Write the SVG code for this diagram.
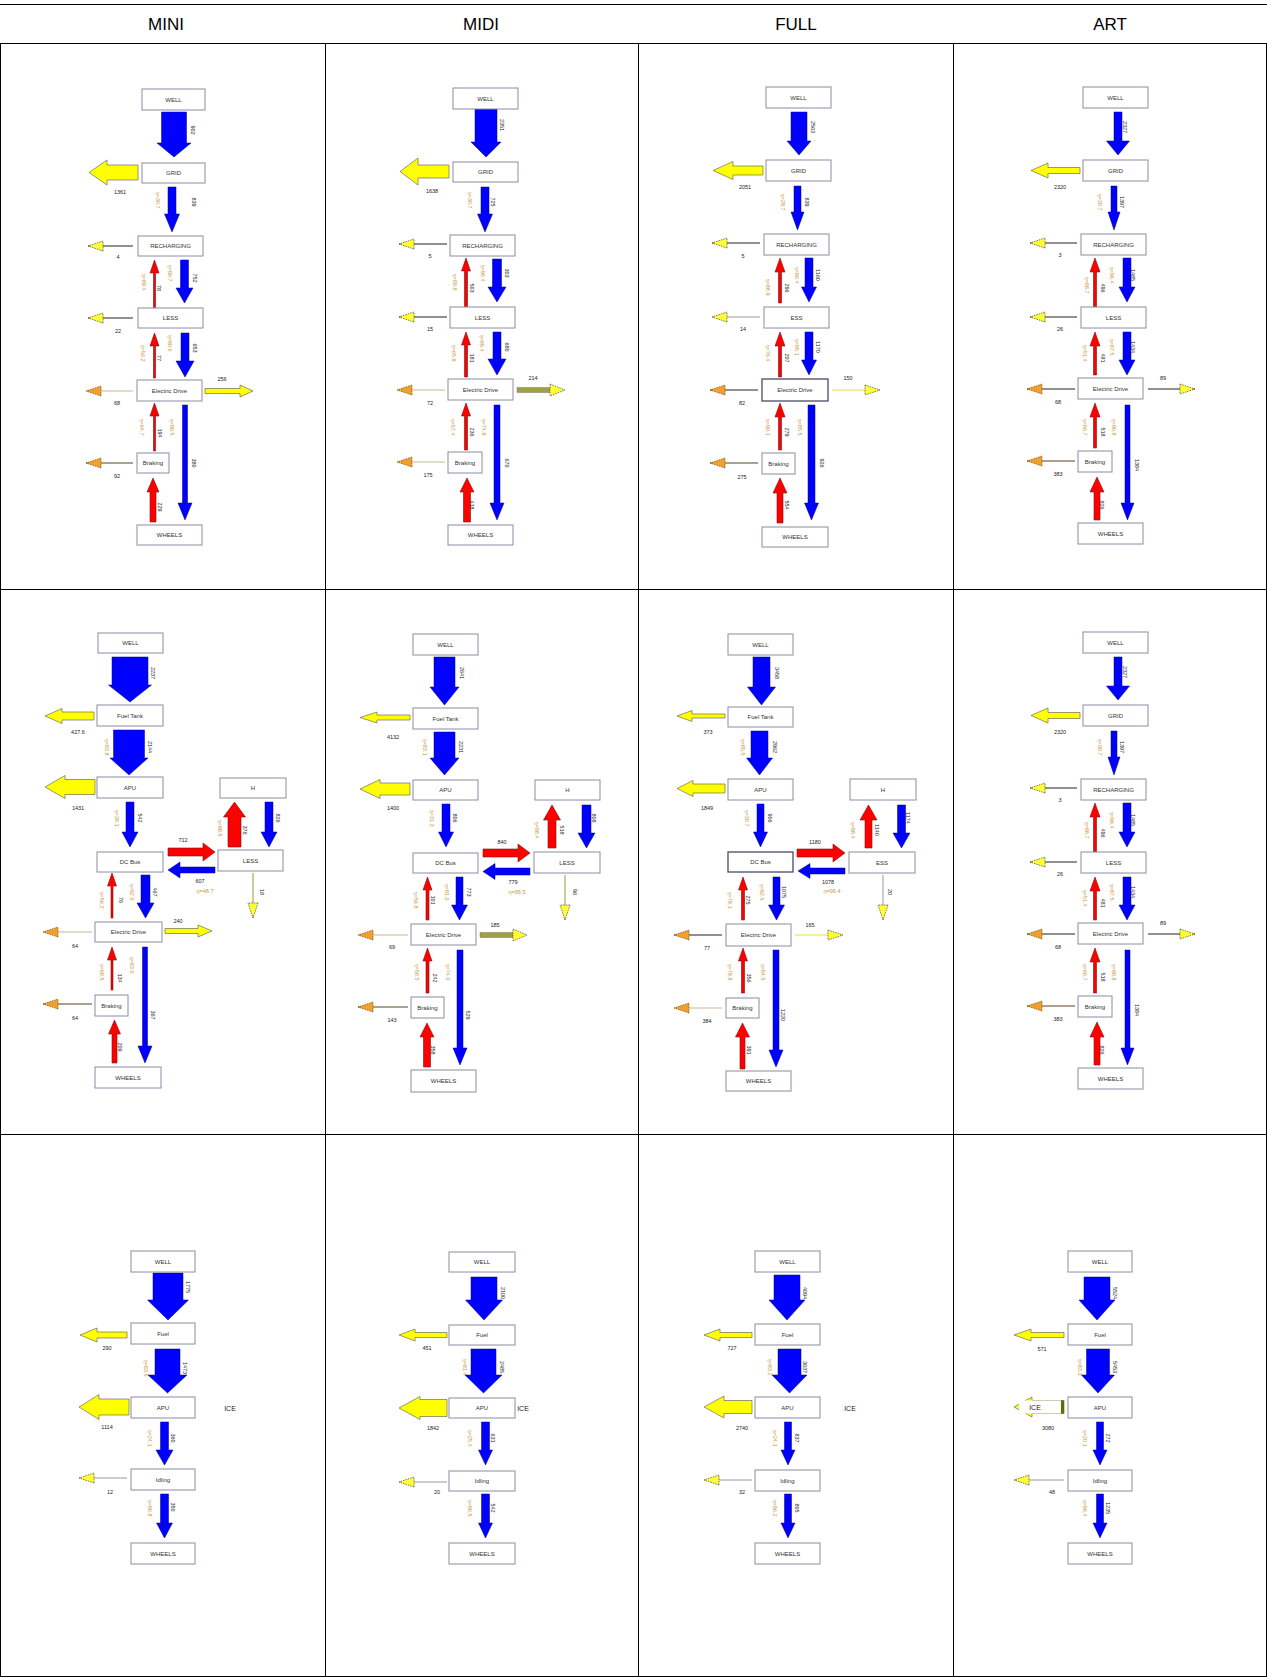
<svg xmlns="http://www.w3.org/2000/svg" width="1267" height="1677" viewBox="0 0 1267 1677">
<style>
.b{fill:#fff;stroke:#8c8ca6;stroke-width:1}
.bd{fill:#fff;stroke:#4a4a66;stroke-width:1.3}
.t{font-family:"Liberation Sans",Arial,sans-serif;font-size:6px;fill:#333;text-anchor:middle;dominant-baseline:central}
.n{font-family:"Liberation Sans",Arial,sans-serif;font-size:5.5px;fill:#222;text-anchor:middle;dominant-baseline:central}
.e{font-family:"Liberation Sans",Arial,sans-serif;font-size:5.5px;fill:#c8963c;text-anchor:middle;dominant-baseline:central}
.ice{font-family:"Liberation Sans",Arial,sans-serif;font-size:7px;fill:#222;text-anchor:middle;dominant-baseline:central}
.h{font-family:"Liberation Sans",Arial,sans-serif;font-size:17px;fill:#000;text-anchor:middle;dominant-baseline:central}
.bl{fill:#0000ff;stroke:#000080;stroke-width:.5}
.rd{fill:#ff0000;stroke:#7a1010;stroke-width:.6}
.yl{fill:#ffff00;stroke:#555;stroke-width:.6}
.lk{stroke:#222;stroke-width:1;fill:none}
.lg{stroke:#9a9a9a}
.lt{stroke:#c8b890}
.lb{stroke:#5a4020}
.ly{stroke:#e6e040}
.lo{stroke:#9a9a30}
.grid{stroke:#000;stroke-width:1;fill:none}
</style>
<defs>
<marker id="mY" markerUnits="userSpaceOnUse" markerWidth="16" markerHeight="10" viewBox="0 0 16 10" refX="15" refY="5" orient="auto" style="overflow:visible">
<path d="M0,0 L15,5 L0,10 Z" fill="#ffff33" stroke="#444" stroke-width=".7" stroke-dasharray="1.5 1"/>
</marker>
<marker id="mO" markerUnits="userSpaceOnUse" markerWidth="16" markerHeight="10" viewBox="0 0 16 10" refX="15" refY="5" orient="auto" style="overflow:visible">
<path d="M0,0 L15,5 L0,10 Z" fill="#f0a030" stroke="#7a5000" stroke-width=".7" stroke-dasharray="1.5 1"/>
</marker>
</defs>
<rect x="0" y="0" width="1267" height="1677" fill="#fff"/>

<g id="table">
<line class="grid" x1="0" y1="4.5" x2="1267" y2="4.5"/>
<line class="grid" x1="0" y1="43.5" x2="1267" y2="43.5"/>
<line class="grid" x1="0" y1="589.5" x2="1267" y2="589.5"/>
<line class="grid" x1="0" y1="1134.5" x2="1267" y2="1134.5"/>
<line class="grid" x1="0" y1="1676.5" x2="1267" y2="1676.5"/>
<line class="grid" x1="0.5" y1="43.5" x2="0.5" y2="1677"/>
<line class="grid" x1="325.5" y1="43.5" x2="325.5" y2="1677"/>
<line class="grid" x1="638.5" y1="43.5" x2="638.5" y2="1677"/>
<line class="grid" x1="953.5" y1="43.5" x2="953.5" y2="1677"/>
<line class="grid" x1="1266.5" y1="43.5" x2="1266.5" y2="1677"/>
<text class="h" x="166" y="24">MINI</text>
<text class="h" x="481" y="24">MIDI</text>
<text class="h" x="796" y="24">FULL</text>
<text class="h" x="1110" y="24">ART</text>
</g>

<!-- ROW 1 MINI -->
<g id="mini1">
<g id="mini1-conn">
<polygon class="bl" points="161.5,112 186.5,112 186.5,143 191,143 174,157 157,143 161.5,143"/>
<polygon class="yl" points="138,165 138,180 107,180 107,185 89,172.5 107,160 107,165"/>
<polygon class="bl" points="168,187 176,187 176,214 179.5,214 172,232 164.5,214 168,214"/>
<line class="lk" x1="133" y1="246" x2="88" y2="246" marker-end="url(#mY)"/>
<polygon class="rd" points="153.5,310 155.5,310 155.5,273 159,273 154.5,260 150,273 153.5,273"/>
<polygon class="bl" points="180.5,260 188.5,260 188.5,288 193,288 184.5,303 176,288 180.5,288"/>
<line class="lk" x1="133" y1="318" x2="88" y2="318" marker-end="url(#mY)"/>
<polygon class="rd" points="153.5,378 155.5,378 155.5,346 159,346 154.5,333 150,346 153.5,346"/>
<polygon class="bl" points="181,333 189,333 189,361 194,361 185,377 176,361 181,361"/>
<line class="lk lt" x1="133" y1="391" x2="86" y2="391" marker-end="url(#mO)"/>
<polygon class="yl" points="205,388.5 240,388.5 240,385 253,391 240,397 240,393.5 205,393.5"/>
<polygon class="rd" points="153.5,451 155.5,451 155.5,416 159,416 154.5,403 150,416 153.5,416"/>
<polygon class="bl" points="182.5,405 187.5,405 187.5,503 192,503 185,520 178,503 182.5,503"/>
<line class="lk lb" x1="133" y1="463" x2="86" y2="463" marker-end="url(#mO)"/>
<polygon class="rd" points="150,522 156,522 156,492 159,492 153,478 147,492 150,492"/>
</g>
<g id="mini1-well"><rect class="b" x="142" y="89" width="63" height="21"/><text class="t" x="173.5" y="99.5">WELL</text></g>
<g id="mini1-grid"><rect class="b" x="142" y="163" width="63" height="20"/><text class="t" x="173.5" y="173">GRID</text></g>
<g id="mini1-rech"><rect class="b" x="138" y="236" width="65" height="20"/><text class="t" x="170.5" y="246">RECHARGING</text></g>
<g id="mini1-less"><rect class="b" x="138" y="308" width="65" height="20"/><text class="t" x="170.5" y="318">LESS</text></g>
<g id="mini1-ed"><rect class="b" x="137" y="380" width="65" height="21"/><text class="t" x="169.5" y="390.5">Electric Drive</text></g>
<g id="mini1-brk"><rect class="b" x="137" y="453" width="32" height="20"/><text class="t" x="153" y="463">Braking</text></g>
<g id="mini1-wh"><rect class="b" x="137" y="525" width="65" height="20"/><text class="t" x="169.5" y="535">WHEELS</text></g>
<g id="mini1-labels">
<text class="n" x="193" y="130" transform="rotate(90 193 130)">902</text>
<text class="n" x="120" y="192">1361</text>
<text class="n" x="194" y="202" transform="rotate(90 194 202)">839</text>
<text class="e" x="158" y="200" transform="rotate(90 158 200)">η=30.7</text>
<text class="n" x="118" y="257">4</text>
<text class="n" x="159" y="288" transform="rotate(90 159 288)">78</text>
<text class="e" x="144" y="282" transform="rotate(90 144 282)">η=89.4</text>
<text class="n" x="195" y="278" transform="rotate(90 195 278)">752</text>
<text class="e" x="170" y="273" transform="rotate(90 170 273)">η=90.7</text>
<text class="n" x="118" y="331">22</text>
<text class="n" x="159" y="358" transform="rotate(90 159 358)">77</text>
<text class="e" x="143" y="353" transform="rotate(90 143 353)">η=56.2</text>
<text class="n" x="195" y="348" transform="rotate(90 195 348)">653</text>
<text class="e" x="170" y="343" transform="rotate(90 170 343)">η=90.6</text>
<text class="n" x="117" y="403">68</text>
<text class="n" x="222" y="379">256</text>
<text class="n" x="160" y="433" transform="rotate(90 160 433)">194</text>
<text class="e" x="142" y="427" transform="rotate(90 142 427)">η=64.7</text>
<text class="n" x="194" y="463" transform="rotate(90 194 463)">380</text>
<text class="e" x="172" y="427" transform="rotate(90 172 427)">η=90.5</text>
<text class="n" x="117" y="476">92</text>
<text class="n" x="160" y="507" transform="rotate(90 160 507)">229</text>
</g>
</g>

<!-- ROW 1 MIDI -->
<g id="midi1">
<g id="midi1-conn">
<polygon class="bl" points="475,103 497,103 497,142 501,142 486,157 471,142 475,142"/>
<polygon class="yl" points="449,165 449,178 418,178 418,185 400,171.5 418,158 418,165"/>
<polygon class="bl" points="481,187 489,187 489,214 492.5,214 485,232 477.5,214 481,214"/>
<line class="lk" x1="447" y1="244" x2="399" y2="244" marker-end="url(#mY)"/>
<polygon class="rd" points="464.5,312 467.5,312 467.5,271 470.5,271 466,258 461.5,271 464.5,271"/>
<polygon class="bl" points="492.5,259 501.5,259 501.5,287 506,287 497,302 488,287 492.5,287"/>
<line class="lk" x1="447" y1="317" x2="399" y2="317" marker-end="url(#mY)"/>
<polygon class="rd" points="464.5,377 467.5,377 467.5,345 470.5,345 466,332 461.5,345 464.5,345"/>
<polygon class="bl" points="493,332 501,332 501,359 506,359 497,375 488,359 493,359"/>
<line class="lk lt" x1="445" y1="390" x2="397" y2="390" marker-end="url(#mO)"/>
<rect x="517" y="387.5" width="34" height="5" fill="#a0a040" stroke="#666" stroke-width=".4"/>
<polygon points="550,384 565,390 550,396" fill="#ffff33" stroke="#444" stroke-width=".7" stroke-dasharray="1.5 1"/>
<polygon class="rd" points="464.5,450 467.5,450 467.5,416 470.5,416 466,403 461.5,416 464.5,416"/>
<polygon class="bl" points="494,405 500,405 500,503 504,503 497,520 490,503 494,503"/>
<line class="lk lt" x1="445" y1="462" x2="397" y2="462" marker-end="url(#mO)"/>
<polygon class="rd" points="463.5,522 470.5,522 470.5,492 474,492 467,478 460,492 463.5,492"/>
</g>
<g id="midi1-well"><rect class="b" x="453" y="88" width="65" height="21"/><text class="t" x="485.5" y="98.5">WELL</text></g>
<g id="midi1-grid"><rect class="b" x="453" y="162" width="65" height="20"/><text class="t" x="485.5" y="172">GRID</text></g>
<g id="midi1-rech"><rect class="b" x="450" y="235" width="65" height="21"/><text class="t" x="482.5" y="245.5">RECHARGING</text></g>
<g id="midi1-less"><rect class="b" x="450" y="307" width="65" height="21"/><text class="t" x="482.5" y="317.5">LESS</text></g>
<g id="midi1-ed"><rect class="b" x="448" y="379" width="65" height="21"/><text class="t" x="480.5" y="389.5">Electric Drive</text></g>
<g id="midi1-brk"><rect class="b" x="448" y="452" width="34" height="21"/><text class="t" x="465" y="462.5">Braking</text></g>
<g id="midi1-wh"><rect class="b" x="448" y="525" width="65" height="20"/><text class="t" x="480.5" y="535">WHEELS</text></g>
<g id="midi1-labels">
<text class="n" x="502" y="125" transform="rotate(90 502 125)">2351</text>
<text class="n" x="432" y="191">1638</text>
<text class="n" x="493" y="202" transform="rotate(90 493 202)">725</text>
<text class="e" x="470" y="200" transform="rotate(90 470 200)">η=30.7</text>
<text class="n" x="430" y="256">5</text>
<text class="n" x="472" y="288" transform="rotate(90 472 288)">503</text>
<text class="e" x="455" y="282" transform="rotate(90 455 282)">η=89.8</text>
<text class="n" x="507" y="273" transform="rotate(90 507 273)">303</text>
<text class="e" x="483" y="273" transform="rotate(90 483 273)">η=96.4</text>
<text class="n" x="430" y="329">15</text>
<text class="n" x="472" y="358" transform="rotate(90 472 358)">181</text>
<text class="e" x="454" y="353" transform="rotate(90 454 353)">η=65.9</text>
<text class="n" x="507" y="347" transform="rotate(90 507 347)">680</text>
<text class="e" x="482" y="343" transform="rotate(90 482 343)">η=89.4</text>
<text class="n" x="430" y="403">72</text>
<text class="n" x="533" y="378">214</text>
<text class="n" x="472" y="432" transform="rotate(90 472 432)">236</text>
<text class="e" x="453" y="427" transform="rotate(90 453 427)">η=57.4</text>
<text class="n" x="507" y="463" transform="rotate(90 507 463)">670</text>
<text class="e" x="484" y="427" transform="rotate(90 484 427)">η=74.8</text>
<text class="n" x="428" y="475">175</text>
<text class="n" x="472" y="505" transform="rotate(90 472 505)">418</text>
</g>
</g>

<!-- ROW 1 FULL -->
<g id="full1">
<g id="full1-conn">
<polygon class="bl" points="791,112 807,112 807,141 811,141 799,155 787,141 791,141"/>
<polygon class="yl" points="763,166 763,175 733,175 733,179.5 713,170.5 733,161.5 733,166"/>
<polygon class="bl" points="794,186 801,186 801,212 804,212 797.5,230 791,212 794,212"/>
<line class="lk" x1="760" y1="243" x2="712" y2="243" marker-end="url(#mY)"/>
<polygon class="rd" points="778.5,303 781.5,303 781.5,272 785,272 780,258 775,272 778.5,272"/>
<polygon class="bl" points="805,258 813,258 813,287 816.5,287 809,302 801.5,287 805,287"/>
<line class="lk lg" x1="760" y1="317" x2="712" y2="317" marker-end="url(#mY)"/>
<polygon class="rd" points="778.5,377 781.5,377 781.5,346 785,346 780,332 775,346 778.5,346"/>
<polygon class="bl" points="805,332 813,332 813,360 816.5,360 809,375 801.5,360 805,360"/>
<line class="lk" x1="758" y1="390" x2="710" y2="390" marker-end="url(#mO)"/>
<line class="lk ly" x1="832" y1="390" x2="880" y2="390" marker-end="url(#mY)"/>
<polygon class="rd" points="778.5,450 781.5,450 781.5,417 785,417 780,403 775,417 778.5,417"/>
<polygon class="bl" points="808,405 815,405 815,503 818.5,503 811.5,520 804.5,503 808,503"/>
<line class="lk lb" x1="758" y1="463" x2="710" y2="463" marker-end="url(#mO)"/>
<polygon class="rd" points="777,523 783,523 783,493 787,493 780,478 773,493 777,493"/>
</g>
<g id="full1-well"><rect class="b" x="766" y="87" width="65" height="21"/><text class="t" x="798.5" y="97.5">WELL</text></g>
<g id="full1-grid"><rect class="b" x="766" y="160" width="65" height="21"/><text class="t" x="798.5" y="170.5">GRID</text></g>
<g id="full1-rech"><rect class="b" x="764" y="234" width="65" height="21"/><text class="t" x="796.5" y="244.5">RECHARGING</text></g>
<g id="full1-ess"><rect class="b" x="764" y="307" width="65" height="21"/><text class="t" x="796.5" y="317.5">ESS</text></g>
<g id="full1-ed"><rect class="bd" x="762" y="379" width="66" height="22"/><text class="t" x="795" y="390">Electric Drive</text></g>
<g id="full1-brk"><rect class="b" x="762" y="453" width="33" height="21"/><text class="t" x="778.5" y="463.5">Braking</text></g>
<g id="full1-wh"><rect class="b" x="762" y="527" width="66" height="20"/><text class="t" x="795" y="537">WHEELS</text></g>
<g id="full1-labels">
<text class="n" x="813" y="127" transform="rotate(90 813 127)">2563</text>
<text class="n" x="745" y="187">2051</text>
<text class="n" x="807" y="202" transform="rotate(90 807 202)">839</text>
<text class="e" x="783" y="202" transform="rotate(90 783 202)">η=29.7</text>
<text class="n" x="743" y="256">5</text>
<text class="n" x="787" y="288" transform="rotate(90 787 288)">296</text>
<text class="e" x="768" y="287" transform="rotate(90 768 287)">η=88.9</text>
<text class="n" x="818" y="275" transform="rotate(90 818 275)">1160</text>
<text class="e" x="797" y="275" transform="rotate(90 797 275)">η=96.4</text>
<text class="n" x="743" y="329">14</text>
<text class="n" x="787" y="358" transform="rotate(90 787 358)">207</text>
<text class="e" x="768" y="353" transform="rotate(90 768 353)">η=76.4</text>
<text class="n" x="818" y="347" transform="rotate(90 818 347)">1170</text>
<text class="e" x="797" y="347" transform="rotate(90 797 347)">η=95.1</text>
<text class="n" x="742" y="403">82</text>
<text class="n" x="848" y="378">150</text>
<text class="n" x="787" y="432" transform="rotate(90 787 432)">279</text>
<text class="e" x="768" y="427" transform="rotate(90 768 427)">η=90.1</text>
<text class="n" x="822" y="463" transform="rotate(90 822 463)">926</text>
<text class="e" x="800" y="427" transform="rotate(90 800 427)">η=85.5</text>
<text class="n" x="742" y="477">275</text>
<text class="n" x="787" y="505" transform="rotate(90 787 505)">554</text>
</g>
</g>

<!-- ROW 1 ART -->
<g id="art1">
<g id="art1-conn">
<polygon class="bl" points="1114,112 1122,112 1122,141 1129.5,141 1118,155 1106.5,141 1114,141"/>
<polygon class="yl" points="1080,167.5 1080,173.5 1048,173.5 1048,178 1031,170.5 1048,163 1048,167.5"/>
<polygon class="bl" points="1111,186 1117,186 1117,212 1120,212 1114,230 1108,212 1111,212"/>
<line class="lk" x1="1077" y1="243" x2="1030" y2="243" marker-end="url(#mY)"/>
<polygon class="rd" points="1093.5,310 1096.5,310 1096.5,272 1100,272 1095,258 1090,272 1093.5,272"/>
<polygon class="bl" points="1123,258 1131,258 1131,287 1135,287 1127,302 1119,287 1123,287"/>
<line class="lk" x1="1077" y1="317" x2="1030" y2="317" marker-end="url(#mY)"/>
<polygon class="rd" points="1093.5,375 1096.5,375 1096.5,346 1100,346 1095,332 1090,346 1093.5,346"/>
<polygon class="bl" points="1123,332 1131,332 1131,360 1135,360 1127,375 1119,360 1123,360"/>
<line class="lk" x1="1075" y1="389" x2="1027" y2="389" marker-end="url(#mO)"/>
<line class="lk" x1="1148" y1="389" x2="1195" y2="389" marker-end="url(#mY)"/>
<polygon class="rd" points="1093.5,448 1096.5,448 1096.5,417 1100,417 1095,403 1090,417 1093.5,417"/>
<polygon class="bl" points="1125,405 1130,405 1130,503 1134,503 1127.5,520 1121,503 1125,503"/>
<line class="lk lb" x1="1075" y1="461" x2="1027" y2="461" marker-end="url(#mO)"/>
<polygon class="rd" points="1094,520 1100,520 1100,492 1104,492 1097,477 1090,492 1094,492"/>
</g>
<g id="art1-well"><rect class="b" x="1083" y="87" width="65" height="21"/><text class="t" x="1115.5" y="97.5">WELL</text></g>
<g id="art1-grid"><rect class="b" x="1083" y="160" width="65" height="21"/><text class="t" x="1115.5" y="170.5">GRID</text></g>
<g id="art1-rech"><rect class="b" x="1081" y="234" width="65" height="21"/><text class="t" x="1113.5" y="244.5">RECHARGING</text></g>
<g id="art1-less"><rect class="b" x="1081" y="307" width="65" height="21"/><text class="t" x="1113.5" y="317.5">LESS</text></g>
<g id="art1-ed"><rect class="b" x="1078" y="378" width="65" height="21"/><text class="t" x="1110.5" y="388.5">Electric Drive</text></g>
<g id="art1-brk"><rect class="b" x="1078" y="451" width="34" height="21"/><text class="t" x="1095" y="461.5">Braking</text></g>
<g id="art1-wh"><rect class="b" x="1078" y="523" width="65" height="21"/><text class="t" x="1110.5" y="533.5">WHEELS</text></g>
<g id="art1-labels">
<text class="n" x="1125" y="127" transform="rotate(90 1125 127)">2327</text>
<text class="n" x="1060" y="187">2320</text>
<text class="n" x="1122" y="202" transform="rotate(90 1122 202)">1397</text>
<text class="e" x="1100" y="202" transform="rotate(90 1100 202)">η=30.7</text>
<text class="n" x="1060" y="255">3</text>
<text class="n" x="1103" y="288" transform="rotate(90 1103 288)">496</text>
<text class="e" x="1087" y="285" transform="rotate(90 1087 285)">η=88.7</text>
<text class="n" x="1133" y="275" transform="rotate(90 1133 275)">1485</text>
<text class="e" x="1112" y="275" transform="rotate(90 1112 275)">η=96.4</text>
<text class="n" x="1060" y="329">26</text>
<text class="n" x="1103" y="358" transform="rotate(90 1103 358)">481</text>
<text class="e" x="1085" y="353" transform="rotate(90 1085 353)">η=51.4</text>
<text class="n" x="1133" y="347" transform="rotate(90 1133 347)">1434</text>
<text class="e" x="1112" y="347" transform="rotate(90 1112 347)">η=87.5</text>
<text class="n" x="1058" y="402">68</text>
<text class="n" x="1163" y="378">89</text>
<text class="n" x="1103" y="432" transform="rotate(90 1103 432)">518</text>
<text class="e" x="1085" y="427" transform="rotate(90 1085 427)">η=66.7</text>
<text class="n" x="1137" y="465" transform="rotate(90 1137 465)">1384</text>
<text class="e" x="1114" y="427" transform="rotate(90 1114 427)">η=90.8</text>
<text class="n" x="1058" y="474">383</text>
<text class="n" x="1102" y="505" transform="rotate(90 1102 505)">826</text>
</g>
</g>

<!-- ROW 2 MINI -->
<g id="mini2">
<g id="mini2-conn">
<polygon class="bl" points="112,657 148,657 148,685 151.5,685 130,702 108.5,685 112,685"/>
<polygon class="yl" points="94,712 94,720 62,720 62,723.5 45,716 62,708.5 62,712"/>
<polygon class="bl" points="113.5,730 144.5,730 144.5,758 148,758 129,775 110,758 113.5,758"/>
<polygon class="yl" points="95,779.5 95,794.5 65,794.5 65,798.5 45,787 65,775.5 65,779.5"/>
<polygon class="bl" points="126,802 134,802 134,832 138,832 130,847 122,832 126,832"/>
<polygon class="rd" points="228,847 241,847 241,817 245.5,817 234.5,802 223.5,817 228,817"/>
<polygon class="bl" points="265,802 273,802 273,832 277,832 269,847 261,832 265,832"/>
<polygon class="rd" points="168,848 203,848 203,843 215,852 203,861 203,856 168,856"/>
<polygon class="bl" points="215,867 215,873 180,873 180,878 168,870 180,862 180,867"/>
<line class="lk lo" x1="253" y1="873" x2="253" y2="918" marker-end="url(#mY)"/>
<polygon class="rd" points="111,918 113,918 113,886 116.5,886 112,873 107.5,886 111,886"/>
<polygon class="bl" points="141,875 150,875 150,903 154,903 145.5,918 137,903 141,903"/>
<line class="lk lt" x1="92" y1="932" x2="43" y2="932" marker-end="url(#mO)"/>
<polygon class="yl" points="165,928.5 198,928.5 198,925 212,931 198,937 198,933.5 165,933.5"/>
<polygon class="rd" points="111,990 113,990 113,960 116.5,960 112,947 107.5,960 111,960"/>
<polygon class="bl" points="142.5,947 147.5,947 147.5,1046 152,1046 145,1063 138,1046 142.5,1046"/>
<line class="lk lb" x1="92" y1="1004" x2="43" y2="1004" marker-end="url(#mO)"/>
<polygon class="rd" points="112,1063 117,1063 117,1034 120.5,1034 114.5,1020 108.5,1034 112,1034"/>
</g>
<g id="mini2-well"><rect class="b" x="98" y="633" width="65" height="20"/><text class="t" x="130.5" y="643">WELL</text></g>
<g id="mini2-ft"><rect class="b" x="97" y="705" width="66" height="21"/><text class="t" x="130" y="715.5">Fuel Tank</text></g>
<g id="mini2-apu"><rect class="b" x="97" y="777" width="66" height="21"/><text class="t" x="130" y="787.5">APU</text></g>
<g id="mini2-dc"><rect class="b" x="97" y="852" width="66" height="20"/><text class="t" x="130" y="862">DC Bus</text></g>
<g id="mini2-h"><rect class="b" x="220" y="778" width="66" height="20"/><text class="t" x="253" y="788">H</text></g>
<g id="mini2-less"><rect class="b" x="218" y="850" width="65" height="21"/><text class="t" x="250.5" y="860.5">LESS</text></g>
<g id="mini2-ed"><rect class="b" x="95" y="922" width="67" height="20"/><text class="t" x="128.5" y="932">Electric Drive</text></g>
<g id="mini2-brk"><rect class="b" x="95" y="995" width="33" height="21"/><text class="t" x="111.5" y="1005.5">Braking</text></g>
<g id="mini2-wh"><rect class="b" x="95" y="1067" width="66" height="21"/><text class="t" x="128" y="1077.5">WHEELS</text></g>
<g id="mini2-labels">
<text class="n" x="153" y="673" transform="rotate(90 153 673)">2237</text>
<text class="n" x="78" y="732">427.6</text>
<text class="n" x="150" y="747" transform="rotate(90 150 747)">2144</text>
<text class="e" x="107" y="747" transform="rotate(90 107 747)">η=83.8</text>
<text class="n" x="78" y="808">1431</text>
<text class="n" x="140" y="818" transform="rotate(90 140 818)">542</text>
<text class="e" x="117" y="818" transform="rotate(90 117 818)">η=38.1</text>
<text class="n" x="245" y="830" transform="rotate(90 245 830)">376</text>
<text class="e" x="220" y="828" transform="rotate(90 220 828)">η=98.5</text>
<text class="n" x="278" y="818" transform="rotate(90 278 818)">826</text>
<text class="n" x="183" y="840">712</text>
<text class="n" x="200" y="881">607</text>
<text class="e" x="205" y="891">η=48.7</text>
<text class="n" x="262" y="892" transform="rotate(90 262 892)">18</text>
<text class="n" x="121" y="900" transform="rotate(90 121 900)">76</text>
<text class="e" x="102" y="900" transform="rotate(90 102 900)">η=56.2</text>
<text class="n" x="155" y="892" transform="rotate(90 155 892)">467</text>
<text class="e" x="132" y="892" transform="rotate(90 132 892)">η=92.0</text>
<text class="n" x="75" y="946">64</text>
<text class="n" x="178" y="921">240</text>
<text class="n" x="120" y="978" transform="rotate(90 120 978)">134</text>
<text class="e" x="102" y="972" transform="rotate(90 102 972)">η=68.5</text>
<text class="n" x="153" y="1015" transform="rotate(90 153 1015)">367</text>
<text class="e" x="132" y="965" transform="rotate(90 132 965)">η=83.0</text>
<text class="n" x="75" y="1018">64</text>
<text class="n" x="120" y="1047" transform="rotate(90 120 1047)">209</text>
</g>
</g>

<!-- ROW 2 MIDI -->
<g id="midi2">
<g id="midi2-conn">
<polygon class="bl" points="434,657 455,657 455,687 459,687 444.5,705 430,687 434,687"/>
<polygon class="yl" points="410,715 410,720 377,720 377,723 360,717.5 377,712 377,715"/>
<polygon class="bl" points="434,732 455,732 455,758 459,758 444.5,775 430,758 434,758"/>
<polygon class="yl" points="410,783 410,795 380,795 380,798.5 360,789 380,779.5 380,783"/>
<polygon class="bl" points="442,804 450,804 450,832 453.5,832 446,847 438.5,832 442,832"/>
<polygon class="rd" points="548,848 556,848 556,820 560.5,820 552,805 543.5,820 548,820"/>
<polygon class="bl" points="582,805 591,805 591,833 595,833 586.5,848 578,833 582,833"/>
<polygon class="rd" points="483,849 518,849 518,844 530,853 518,862 518,857 483,857"/>
<polygon class="bl" points="530,868 530,875 495,875 495,879.5 483,871.5 495,863.5 495,868"/>
<line class="lk lo" x1="565" y1="875" x2="565" y2="920" marker-end="url(#mY)"/>
<polygon class="rd" points="426,920 429,920 429,890 432,890 427.5,877 423,890 426,890"/>
<polygon class="bl" points="456,877 463,877 463,905 467.5,905 459.5,920 451.5,905 456,905"/>
<line class="lk lt" x1="408" y1="935" x2="358" y2="935" marker-end="url(#mO)"/>
<rect x="480" y="932.5" width="34" height="5" fill="#a0a040" stroke="#666" stroke-width=".4"/>
<polygon points="513,929 527,935 513,941" fill="#ffff33" stroke="#444" stroke-width=".7" stroke-dasharray="1.5 1"/>
<polygon class="rd" points="426,993 429,993 429,961 432,961 427.5,948 423,961 426,961"/>
<polygon class="bl" points="457,950 463,950 463,1048 467,1048 460,1065 453,1048 457,1048"/>
<line class="lk lb" x1="408" y1="1007" x2="358" y2="1007" marker-end="url(#mO)"/>
<polygon class="rd" points="423.5,1067 430.5,1067 430.5,1037 434,1037 427,1023 420,1037 423.5,1037"/>
</g>
<g id="midi2-well"><rect class="b" x="413" y="634" width="65" height="21"/><text class="t" x="445.5" y="644.5">WELL</text></g>
<g id="midi2-ft"><rect class="b" x="413" y="708" width="65" height="21"/><text class="t" x="445.5" y="718.5">Fuel Tank</text></g>
<g id="midi2-apu"><rect class="b" x="413" y="780" width="65" height="20"/><text class="t" x="445.5" y="790">APU</text></g>
<g id="midi2-dc"><rect class="b" x="413" y="853" width="65" height="20"/><text class="t" x="445.5" y="863">DC Bus</text></g>
<g id="midi2-h"><rect class="b" x="535" y="780" width="65" height="20"/><text class="t" x="567.5" y="790">H</text></g>
<g id="midi2-less"><rect class="b" x="534" y="852" width="66" height="21"/><text class="t" x="567" y="862.5">LESS</text></g>
<g id="midi2-ed"><rect class="b" x="411" y="924" width="65" height="21"/><text class="t" x="443.5" y="934.5">Electric Drive</text></g>
<g id="midi2-brk"><rect class="b" x="411" y="997" width="33" height="21"/><text class="t" x="427.5" y="1007.5">Braking</text></g>
<g id="midi2-wh"><rect class="b" x="411" y="1070" width="65" height="22"/><text class="t" x="443.5" y="1081">WHEELS</text></g>
<g id="midi2-labels">
<text class="n" x="462" y="673" transform="rotate(90 462 673)">2641</text>
<text class="n" x="393" y="737">4132</text>
<text class="n" x="461" y="747" transform="rotate(90 461 747)">2231</text>
<text class="e" x="425" y="747" transform="rotate(90 425 747)">η=83.1</text>
<text class="n" x="393" y="808">1400</text>
<text class="n" x="455" y="818" transform="rotate(90 455 818)">806</text>
<text class="e" x="432" y="818" transform="rotate(90 432 818)">η=31.3</text>
<text class="n" x="562" y="830" transform="rotate(90 562 830)">518</text>
<text class="e" x="537" y="830" transform="rotate(90 537 830)">η=98.4</text>
<text class="n" x="594" y="818" transform="rotate(90 594 818)">808</text>
<text class="n" x="502" y="842">840</text>
<text class="n" x="513" y="882">779</text>
<text class="e" x="517" y="892">η=95.5</text>
<text class="n" x="575" y="892" transform="rotate(90 575 892)">96</text>
<text class="n" x="433" y="900" transform="rotate(90 433 900)">101</text>
<text class="e" x="416" y="900" transform="rotate(90 416 900)">η=56.8</text>
<text class="n" x="469" y="892" transform="rotate(90 469 892)">773</text>
<text class="e" x="447" y="892" transform="rotate(90 447 892)">η=91.0</text>
<text class="n" x="392" y="947">69</text>
<text class="n" x="495" y="925">185</text>
<text class="n" x="435" y="978" transform="rotate(90 435 978)">242</text>
<text class="e" x="417" y="972" transform="rotate(90 417 972)">η=58.5</text>
<text class="n" x="468" y="1015" transform="rotate(90 468 1015)">529</text>
<text class="e" x="448" y="972" transform="rotate(90 448 972)">η=74.0</text>
<text class="n" x="392" y="1020">143</text>
<text class="n" x="433" y="1050" transform="rotate(90 433 1050)">358</text>
</g>
</g>

<!-- ROW 2 FULL -->
<g id="full2">
<g id="full2-conn">
<polygon class="bl" points="753,657 770,657 770,687 775.5,687 761.5,705 747.5,687 753,687"/>
<polygon class="yl" points="725,714 725,718 692,718 692,721.5 677,716 692,710.5 692,714"/>
<polygon class="bl" points="751,731 768,731 768,758 772.5,758 759.5,775 746.5,758 751,758"/>
<polygon class="yl" points="725,784 725,793 693,793 693,796.5 677,788.5 693,780.5 693,784"/>
<polygon class="bl" points="757,804 764,804 764,832 767.5,832 760.5,847 753.5,832 757,832"/>
<polygon class="rd" points="865,848 872,848 872,820 877,820 868.5,805 860,820 865,820"/>
<polygon class="bl" points="897.5,805 905.5,805 905.5,833 910,833 901.5,848 893,833 897.5,833"/>
<polygon class="rd" points="797,849 833,849 833,844 845,853 833,862 833,857 797,857"/>
<polygon class="bl" points="845,868 845,874 810,874 810,878.5 798,871 810,863.5 810,868"/>
<line class="lk lg" x1="883" y1="875" x2="883" y2="920" marker-end="url(#mY)"/>
<polygon class="rd" points="741.5,920 744.5,920 744.5,890 747.5,890 743,877 738.5,890 741.5,890"/>
<polygon class="bl" points="773,877 780,877 780,905 784.5,905 776.5,920 768.5,905 773,905"/>
<line class="lk" x1="722" y1="935" x2="674" y2="935" marker-end="url(#mO)"/>
<line class="lk ly" x1="795" y1="935" x2="843" y2="935" marker-end="url(#mY)"/>
<polygon class="rd" points="741.5,993 744.5,993 744.5,961 747.5,961 743,948 738.5,961 741.5,961"/>
<polygon class="bl" points="773,950 779,950 779,1050 783,1050 776,1067 769,1050 773,1050"/>
<line class="lk lt" x1="722" y1="1008" x2="674" y2="1008" marker-end="url(#mO)"/>
<polygon class="rd" points="740,1069 745,1069 745,1037 749.5,1037 742.5,1023 735.5,1037 740,1037"/>
</g>
<g id="full2-well"><rect class="b" x="728" y="634" width="65" height="21"/><text class="t" x="760.5" y="644.5">WELL</text></g>
<g id="full2-ft"><rect class="b" x="728" y="707" width="65" height="20"/><text class="t" x="760.5" y="717">Fuel Tank</text></g>
<g id="full2-apu"><rect class="b" x="728" y="779" width="65" height="21"/><text class="t" x="760.5" y="789.5">APU</text></g>
<g id="full2-dc"><rect class="bd" x="728" y="852" width="65" height="20"/><text class="t" x="760.5" y="862">DC Bus</text></g>
<g id="full2-h"><rect class="b" x="850" y="779" width="66" height="21"/><text class="t" x="883" y="789.5">H</text></g>
<g id="full2-ess"><rect class="b" x="849" y="852" width="66" height="21"/><text class="t" x="882" y="862.5">ESS</text></g>
<g id="full2-ed"><rect class="b" x="726" y="924" width="65" height="22"/><text class="t" x="758.5" y="935">Electric Drive</text></g>
<g id="full2-brk"><rect class="b" x="726" y="998" width="33" height="20"/><text class="t" x="742.5" y="1008">Braking</text></g>
<g id="full2-wh"><rect class="b" x="726" y="1071" width="65" height="20"/><text class="t" x="758.5" y="1081">WHEELS</text></g>
<g id="full2-labels">
<text class="n" x="777" y="673" transform="rotate(90 777 673)">3458</text>
<text class="n" x="708" y="732">373</text>
<text class="n" x="775" y="747" transform="rotate(90 775 747)">2962</text>
<text class="e" x="743" y="747" transform="rotate(90 743 747)">η=85.5</text>
<text class="n" x="707" y="808">1849</text>
<text class="n" x="770" y="818" transform="rotate(90 770 818)">906</text>
<text class="e" x="747" y="818" transform="rotate(90 747 818)">η=30.7</text>
<text class="n" x="877" y="830" transform="rotate(90 877 830)">1140</text>
<text class="e" x="853" y="830" transform="rotate(90 853 830)">η=98.4</text>
<text class="n" x="908" y="818" transform="rotate(90 908 818)">1174</text>
<text class="n" x="815" y="842">1180</text>
<text class="n" x="828" y="882">1078</text>
<text class="e" x="832" y="891">η=96.4</text>
<text class="n" x="890" y="892" transform="rotate(90 890 892)">20</text>
<text class="n" x="748" y="900" transform="rotate(90 748 900)">275</text>
<text class="e" x="730" y="900" transform="rotate(90 730 900)">η=78.1</text>
<text class="n" x="784" y="892" transform="rotate(90 784 892)">1075</text>
<text class="e" x="762" y="892" transform="rotate(90 762 892)">η=92.5</text>
<text class="n" x="707" y="948">77</text>
<text class="n" x="810" y="925">165</text>
<text class="n" x="749" y="978" transform="rotate(90 749 978)">356</text>
<text class="e" x="730" y="972" transform="rotate(90 730 972)">η=78.8</text>
<text class="n" x="783" y="1015" transform="rotate(90 783 1015)">1220</text>
<text class="e" x="763" y="972" transform="rotate(90 763 972)">η=84.5</text>
<text class="n" x="707" y="1021">384</text>
<text class="n" x="749" y="1050" transform="rotate(90 749 1050)">391</text>
</g>
</g>

<!-- ROW 2 ART (same as row 1 ART) -->
<g id="art2" transform="translate(0,545)">
<g id="art2-conn">
<polygon class="bl" points="1114,112 1122,112 1122,141 1129.5,141 1118,155 1106.5,141 1114,141"/>
<polygon class="yl" points="1080,167.5 1080,173.5 1048,173.5 1048,178 1031,170.5 1048,163 1048,167.5"/>
<polygon class="bl" points="1111,186 1117,186 1117,212 1120,212 1114,230 1108,212 1111,212"/>
<line class="lk" x1="1077" y1="243" x2="1030" y2="243" marker-end="url(#mY)"/>
<polygon class="rd" points="1093.5,310 1096.5,310 1096.5,272 1100,272 1095,258 1090,272 1093.5,272"/>
<polygon class="bl" points="1123,258 1131,258 1131,287 1135,287 1127,302 1119,287 1123,287"/>
<line class="lk" x1="1077" y1="317" x2="1030" y2="317" marker-end="url(#mY)"/>
<polygon class="rd" points="1093.5,375 1096.5,375 1096.5,346 1100,346 1095,332 1090,346 1093.5,346"/>
<polygon class="bl" points="1123,332 1131,332 1131,360 1135,360 1127,375 1119,360 1123,360"/>
<line class="lk" x1="1075" y1="389" x2="1027" y2="389" marker-end="url(#mO)"/>
<line class="lk" x1="1148" y1="389" x2="1195" y2="389" marker-end="url(#mY)"/>
<polygon class="rd" points="1093.5,448 1096.5,448 1096.5,417 1100,417 1095,403 1090,417 1093.5,417"/>
<polygon class="bl" points="1125,405 1130,405 1130,503 1134,503 1127.5,520 1121,503 1125,503"/>
<line class="lk lb" x1="1075" y1="461" x2="1027" y2="461" marker-end="url(#mO)"/>
<polygon class="rd" points="1094,520 1100,520 1100,492 1104,492 1097,477 1090,492 1094,492"/>
</g>
<g id="art2-well"><rect class="b" x="1083" y="87" width="65" height="21"/><text class="t" x="1115.5" y="97.5">WELL</text></g>
<g id="art2-grid"><rect class="b" x="1083" y="160" width="65" height="21"/><text class="t" x="1115.5" y="170.5">GRID</text></g>
<g id="art2-rech"><rect class="b" x="1081" y="234" width="65" height="21"/><text class="t" x="1113.5" y="244.5">RECHARGING</text></g>
<g id="art2-less"><rect class="b" x="1081" y="307" width="65" height="21"/><text class="t" x="1113.5" y="317.5">LESS</text></g>
<g id="art2-ed"><rect class="b" x="1078" y="378" width="65" height="21"/><text class="t" x="1110.5" y="388.5">Electric Drive</text></g>
<g id="art2-brk"><rect class="b" x="1078" y="451" width="34" height="21"/><text class="t" x="1095" y="461.5">Braking</text></g>
<g id="art2-wh"><rect class="b" x="1078" y="523" width="65" height="21"/><text class="t" x="1110.5" y="533.5">WHEELS</text></g>
<g id="art2-labels">
<text class="n" x="1125" y="127" transform="rotate(90 1125 127)">2327</text>
<text class="n" x="1060" y="187">2320</text>
<text class="n" x="1122" y="202" transform="rotate(90 1122 202)">1397</text>
<text class="e" x="1100" y="202" transform="rotate(90 1100 202)">η=30.7</text>
<text class="n" x="1060" y="255">3</text>
<text class="n" x="1103" y="288" transform="rotate(90 1103 288)">496</text>
<text class="e" x="1087" y="285" transform="rotate(90 1087 285)">η=88.7</text>
<text class="n" x="1133" y="275" transform="rotate(90 1133 275)">1485</text>
<text class="e" x="1112" y="275" transform="rotate(90 1112 275)">η=96.4</text>
<text class="n" x="1060" y="329">26</text>
<text class="n" x="1103" y="358" transform="rotate(90 1103 358)">481</text>
<text class="e" x="1085" y="353" transform="rotate(90 1085 353)">η=51.4</text>
<text class="n" x="1133" y="347" transform="rotate(90 1133 347)">1434</text>
<text class="e" x="1112" y="347" transform="rotate(90 1112 347)">η=87.5</text>
<text class="n" x="1058" y="402">68</text>
<text class="n" x="1163" y="378">89</text>
<text class="n" x="1103" y="432" transform="rotate(90 1103 432)">518</text>
<text class="e" x="1085" y="427" transform="rotate(90 1085 427)">η=66.7</text>
<text class="n" x="1137" y="465" transform="rotate(90 1137 465)">1384</text>
<text class="e" x="1114" y="427" transform="rotate(90 1114 427)">η=90.8</text>
<text class="n" x="1058" y="474">383</text>
<text class="n" x="1102" y="505" transform="rotate(90 1102 505)">826</text>
</g>
</g>

<!-- ROW 3 MINI -->
<g id="mini3">
<g id="mini3-conn">
<polygon class="bl" points="153,1273 183,1273 183,1300 188.5,1300 168,1320 147.5,1300 153,1300"/>
<polygon class="yl" points="127,1332 127,1338 97,1338 97,1342 80,1335 97,1328 97,1332"/>
<polygon class="bl" points="155,1349 180,1349 180,1375 187,1375 167.5,1393 148,1375 155,1375"/>
<polygon class="yl" points="129,1399 129,1415 99,1415 99,1419.5 79,1407 99,1394.5 99,1399"/>
<polygon class="bl" points="160.5,1422 168.5,1422 168.5,1450 173,1450 164.5,1465 156,1450 160.5,1450"/>
<line class="lk lg" x1="127" y1="1478" x2="79" y2="1478" marker-end="url(#mY)"/>
<polygon class="bl" points="160.5,1494 168.5,1494 168.5,1523 172.5,1523 164.5,1538 156.5,1523 160.5,1523"/>
</g>
<g id="mini3-well"><rect class="b" x="131" y="1251" width="64" height="21"/><text class="t" x="163" y="1261.5">WELL</text></g>
<g id="mini3-fuel"><rect class="b" x="131" y="1323" width="64" height="21"/><text class="t" x="163" y="1333.5">Fuel</text></g>
<g id="mini3-apu"><rect class="b" x="131" y="1397" width="64" height="21"/><text class="t" x="163" y="1407.5">APU</text></g>
<g id="mini3-idl"><rect class="b" x="131" y="1469" width="64" height="21"/><text class="t" x="163" y="1479.5">Idling</text></g>
<g id="mini3-wh"><rect class="b" x="131" y="1543" width="64" height="21"/><text class="t" x="163" y="1553.5">WHEELS</text></g>
<g id="mini3-ice"><text class="ice" x="230" y="1408">ICE</text></g>
<g id="mini3-labels">
<text class="n" x="188" y="1287" transform="rotate(90 188 1287)">1775</text>
<text class="n" x="107" y="1348">290</text>
<text class="n" x="185" y="1368" transform="rotate(90 185 1368)">1473</text>
<text class="e" x="146" y="1368" transform="rotate(90 146 1368)">η=83.5</text>
<text class="n" x="107" y="1427">1114</text>
<text class="n" x="173" y="1438" transform="rotate(90 173 1438)">360</text>
<text class="e" x="150" y="1438" transform="rotate(90 150 1438)">η=24.1</text>
<text class="n" x="110" y="1492">12</text>
<text class="n" x="173" y="1507" transform="rotate(90 173 1507)">350</text>
<text class="e" x="150" y="1508" transform="rotate(90 150 1508)">η=96.8</text>
</g>
</g>

<!-- ROW 3 MIDI -->
<g id="midi3">
<g id="midi3-conn">
<polygon class="bl" points="471,1277 497,1277 497,1300 502.5,1300 484,1320 465.5,1300 471,1300"/>
<polygon class="yl" points="447,1332.5 447,1337.5 415,1337.5 415,1341 399,1335 415,1329 415,1332.5"/>
<polygon class="bl" points="471,1349 496,1349 496,1375 502,1375 483.5,1393 465,1375 471,1375"/>
<polygon class="yl" points="447,1399.5 447,1416.5 420,1416.5 420,1419.5 399,1408 420,1396.5 420,1399.5"/>
<polygon class="bl" points="481.5,1422 489.5,1422 489.5,1450 492.5,1450 485.5,1465 478.5,1450 481.5,1450"/>
<line class="lk lg" x1="447" y1="1482" x2="399" y2="1482" marker-end="url(#mY)"/>
<polygon class="bl" points="481.5,1494 489.5,1494 489.5,1523 492.5,1523 485.5,1538 478.5,1523 481.5,1523"/>
</g>
<g id="midi3-well"><rect class="b" x="449" y="1252" width="66" height="20"/><text class="t" x="482" y="1262">WELL</text></g>
<g id="midi3-fuel"><rect class="b" x="449" y="1325" width="66" height="20"/><text class="t" x="482" y="1335">Fuel</text></g>
<g id="midi3-apu"><rect class="b" x="449" y="1398" width="66" height="20"/><text class="t" x="482" y="1408">APU</text></g>
<g id="midi3-idl"><rect class="b" x="449" y="1471" width="66" height="20"/><text class="t" x="482" y="1481">Idling</text></g>
<g id="midi3-wh"><rect class="b" x="449" y="1543" width="66" height="21"/><text class="t" x="482" y="1553.5">WHEELS</text></g>
<g id="midi3-ice"><text class="ice" x="523" y="1408">ICE</text></g>
<g id="midi3-labels">
<text class="n" x="503" y="1293" transform="rotate(90 503 1293)">2100</text>
<text class="n" x="427" y="1348">451</text>
<text class="n" x="502" y="1367" transform="rotate(90 502 1367)">2485</text>
<text class="e" x="465" y="1367" transform="rotate(90 465 1367)">η=81.4</text>
<text class="n" x="433" y="1428">1842</text>
<text class="n" x="493" y="1438" transform="rotate(90 493 1438)">631</text>
<text class="e" x="470" y="1438" transform="rotate(90 470 1438)">η=25.4</text>
<text class="n" x="437" y="1492">20</text>
<text class="n" x="493" y="1508" transform="rotate(90 493 1508)">542</text>
<text class="e" x="470" y="1508" transform="rotate(90 470 1508)">η=96.5</text>
</g>
</g>

<!-- ROW 3 FULL -->
<g id="full3">
<g id="full3-conn">
<polygon class="bl" points="774,1275 800,1275 800,1300 805,1300 787,1320 769,1300 774,1300"/>
<polygon class="yl" points="752,1332.5 752,1337.5 720,1337.5 720,1341 704,1335 720,1329 720,1332.5"/>
<polygon class="bl" points="778,1349 801,1349 801,1375 807,1375 789.5,1393 772,1375 778,1375"/>
<polygon class="yl" points="752,1400.5 752,1413.5 724,1413.5 724,1418 704,1407 724,1396 724,1400.5"/>
<polygon class="bl" points="784.5,1422 791.5,1422 791.5,1450 795,1450 788,1465 781,1450 784.5,1450"/>
<line class="lk lg" x1="752" y1="1480" x2="704" y2="1480" marker-end="url(#mY)"/>
<polygon class="bl" points="784.5,1494 791.5,1494 791.5,1523 795,1523 788,1538 781,1523 784.5,1523"/>
</g>
<g id="full3-well"><rect class="b" x="755" y="1251" width="65" height="21"/><text class="t" x="787.5" y="1261.5">WELL</text></g>
<g id="full3-fuel"><rect class="b" x="755" y="1324" width="65" height="21"/><text class="t" x="787.5" y="1334.5">Fuel</text></g>
<g id="full3-apu"><rect class="b" x="755" y="1397" width="65" height="21"/><text class="t" x="787.5" y="1407.5">APU</text></g>
<g id="full3-idl"><rect class="b" x="755" y="1470" width="65" height="21"/><text class="t" x="787.5" y="1480.5">Idling</text></g>
<g id="full3-wh"><rect class="b" x="755" y="1543" width="65" height="21"/><text class="t" x="787.5" y="1553.5">WHEELS</text></g>
<g id="full3-ice"><text class="ice" x="850" y="1408">ICE</text></g>
<g id="full3-labels">
<text class="n" x="805" y="1293" transform="rotate(90 805 1293)">4094</text>
<text class="n" x="732" y="1348">727</text>
<text class="n" x="805" y="1367" transform="rotate(90 805 1367)">3637</text>
<text class="e" x="770" y="1367" transform="rotate(90 770 1367)">η=83.2</text>
<text class="n" x="742" y="1428">2740</text>
<text class="n" x="797" y="1438" transform="rotate(90 797 1438)">837</text>
<text class="e" x="775" y="1438" transform="rotate(90 775 1438)">η=24.1</text>
<text class="n" x="742" y="1492">32</text>
<text class="n" x="797" y="1508" transform="rotate(90 797 1508)">805</text>
<text class="e" x="775" y="1508" transform="rotate(90 775 1508)">η=96.2</text>
</g>
</g>

<!-- ROW 3 ART -->
<g id="art3">
<g id="art3-conn">
<polygon class="bl" points="1084,1277 1110,1277 1110,1300 1115,1300 1097,1320 1079,1300 1084,1300"/>
<polygon class="yl" points="1064,1332.5 1064,1337.5 1031,1337.5 1031,1341 1014,1335 1031,1329 1031,1332.5"/>
<polygon class="bl" points="1086.5,1349 1109.5,1349 1109.5,1375 1114.5,1375 1098,1393 1081.5,1375 1086.5,1375"/>
<polygon class="yl" points="1064,1400.5 1064,1413.5 1032,1413.5 1032,1417 1014,1407 1032,1397 1032,1400.5"/>
<rect x="1061" y="1400.5" width="3" height="13" fill="#6a6a00"/>
<polygon class="bl" points="1096.5,1422 1103.5,1422 1103.5,1450 1107,1450 1100,1465 1093,1450 1096.5,1450"/>
<line class="lk lg" x1="1064" y1="1480" x2="1014" y2="1480" marker-end="url(#mY)"/>
<polygon class="bl" points="1096.5,1494 1103.5,1494 1103.5,1523 1107,1523 1100,1538 1093,1523 1096.5,1523"/>
</g>
<g id="art3-well"><rect class="b" x="1068" y="1251" width="64" height="21"/><text class="t" x="1100" y="1261.5">WELL</text></g>
<g id="art3-fuel"><rect class="b" x="1068" y="1324" width="64" height="21"/><text class="t" x="1100" y="1334.5">Fuel</text></g>
<g id="art3-apu"><rect class="b" x="1068" y="1397" width="64" height="21"/><text class="t" x="1100" y="1407.5">APU</text></g>
<g id="art3-idl"><rect class="b" x="1068" y="1470" width="64" height="21"/><text class="t" x="1100" y="1480.5">Idling</text></g>
<g id="art3-wh"><rect class="b" x="1068" y="1543" width="64" height="21"/><text class="t" x="1100" y="1553.5">WHEELS</text></g>
<g id="art3-ice"><rect x="1019" y="1400.5" width="42" height="13" fill="#fff"/><text class="ice" x="1035" y="1407.5">ICE</text></g>
<g id="art3-labels">
<text class="n" x="1115" y="1293" transform="rotate(90 1115 1293)">5524</text>
<text class="n" x="1042" y="1349">571</text>
<text class="n" x="1115" y="1367" transform="rotate(90 1115 1367)">5453</text>
<text class="e" x="1080" y="1367" transform="rotate(90 1080 1367)">η=83.3</text>
<text class="n" x="1048" y="1428">3080</text>
<text class="n" x="1108" y="1438" transform="rotate(90 1108 1438)">272</text>
<text class="e" x="1085" y="1438" transform="rotate(90 1085 1438)">η=20.1</text>
<text class="n" x="1052" y="1492">48</text>
<text class="n" x="1108" y="1508" transform="rotate(90 1108 1508)">1235</text>
<text class="e" x="1085" y="1508" transform="rotate(90 1085 1508)">η=96.4</text>
</g>
</g>
</svg>
